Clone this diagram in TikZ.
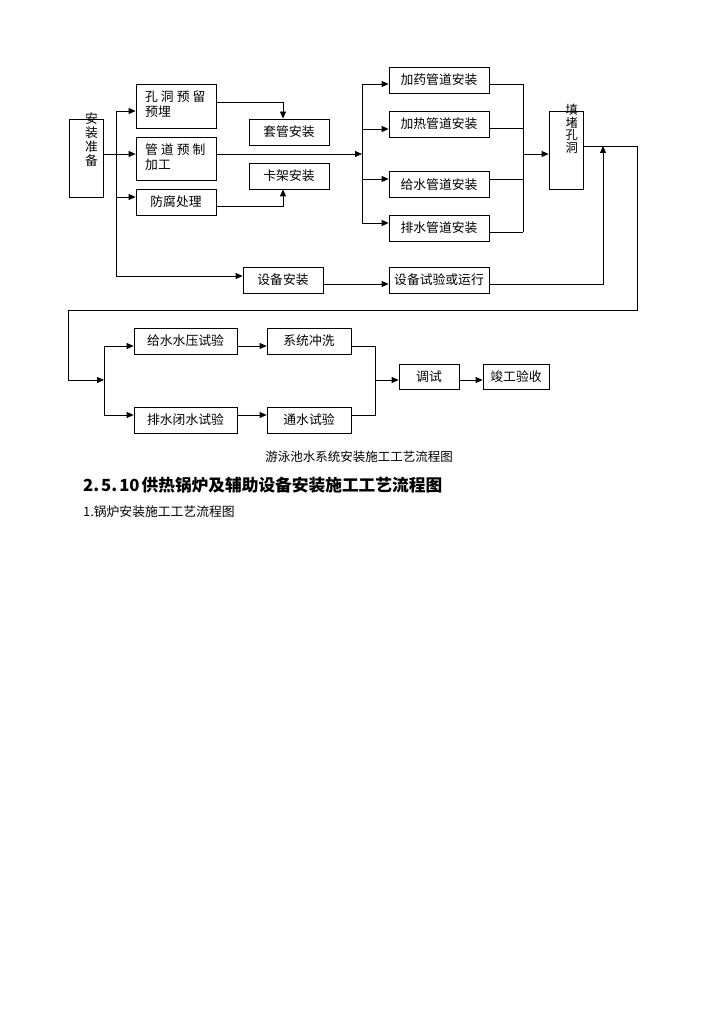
\documentclass[tikz,border=0pt]{standalone}
\usepackage{fontspec}
\newfontfamily\cjk{Noto Sans CJK SC}
\usetikzlibrary{arrows.meta,calc}
\begin{document}
\begin{tikzpicture}[x=1pt,y=-1pt,
  every node/.style={font=\cjk\fontsize{12.8}{14}\selectfont, text=black},
  box/.style={draw, line width=0.8pt, inner sep=0pt, minimum height=26pt},
  lbl/.style={inner sep=0pt},
  ln/.style={line width=0.8pt},
  arr/.style={ln, -{Triangle[length=7pt,width=6pt]}}]
\useasboundingbox[fill=white] (0,0) rectangle (724,1024);

% ---------- upper part ----------
\node[box, minimum width=34pt, minimum height=78pt] (zb) at (86,158) {};
\node[lbl, anchor=north, align=center, font=\cjk\fontsize{12.8}{14}\selectfont] (zbt) at (91.5,113) {安\\装\\准\\备};

\node[box, minimum width=80pt, minimum height=44pt] (kd) at (176,106) {};
\node[lbl, anchor=north west, align=left, font=\cjk\fontsize{12.8}{15}\selectfont] (kdt) at (145,91) {孔\hspace{3pt}洞\hspace{3pt}预\hspace{3pt}留\\预埋};

\node[box, minimum width=80pt, minimum height=43pt] (gd) at (176,158.5) {};
\node[lbl, anchor=north west, align=left, font=\cjk\fontsize{12.8}{15.5}\selectfont] (gdt) at (145,143) {管\hspace{3pt}道\hspace{3pt}预\hspace{3pt}制\\加工};

\node[box, minimum width=80pt] (ff) at (176,202) {防腐处理};
\node[box, minimum width=80pt] (tg) at (289,132) {套管安装};
\node[box, minimum width=80pt] (kj) at (289,176) {卡架安装};
\node[box, minimum width=80pt] (sb) at (283,280) {设备安装};

\node[box, minimum width=100pt] (jy) at (439,80) {加药管道安装};
\node[box, minimum width=100pt] (jr) at (439,124) {加热管道安装};
\node[box, minimum width=100pt] (gs) at (439,184.5) {给水管道安装};
\node[box, minimum width=100pt] (ps) at (439,228) {排水管道安装};
\node[box, minimum width=100pt] (sy) at (439,280) {设备试验或运行};

\node[box, minimum width=34pt, minimum height=78pt] (td) at (566,150) {};
\node[lbl, anchor=north, align=center, font=\cjk\fontsize{12.3}{12.5}\selectfont] (tdt) at (571.7,104) {填\\堵\\孔\\洞};

% ---------- lower part ----------
\node[box, minimum width=103pt] (sy2) at (185.5,341) {给水水压试验};
\node[box, minimum width=84pt] (cx) at (309,341) {系统冲洗};
\node[box, minimum width=103pt] (bs) at (185.5,420) {排水闭水试验};
\node[box, minimum width=84pt] (ts) at (309,420) {通水试验};
\node[box, minimum width=60pt, minimum height=25pt] (dt) at (429,376.5) {调试};
\node[box, minimum width=66pt, minimum height=25pt] (jg) at (516,376.5) {竣工验收};

% ---------- captions ----------
\node[lbl, font=\cjk\fontsize{12.5}{14}\selectfont] (cap) at (359,457) {游泳池水系统安装施工工艺流程图};
\node[lbl, anchor=west, font=\cjk\bfseries\fontsize{16.7}{19}\selectfont] (hd) at (83,485) {2.\hspace{2pt}5.\hspace{2pt}10\hspace{2pt}供热锅炉及辅助设备安装施工工艺流程图};
\node[lbl, anchor=west, font=\cjk\fontsize{12.8}{14}\selectfont] (sub) at (83,512) {1.锅炉安装施工工艺流程图};

% ---------- junction coordinates ----------
\coordinate (a1) at (116,111);
\coordinate (a2) at (116,154);
\coordinate (a3) at (116,197);
\coordinate (a4) at (116,276);
\coordinate (b0) at (362,154);
\coordinate (b1) at (362,84);
\coordinate (b2) at (362,129);
\coordinate (b3) at (362,179);
\coordinate (b4) at (362,223);
\coordinate (c1) at (523,84);
\coordinate (c2) at (523,128);
\coordinate (c3) at (523,179);
\coordinate (c4) at (523,232);
\coordinate (c0) at (523,154);
\coordinate (d1) at (637,146);
\coordinate (d2) at (637,310);
\coordinate (d3) at (68,310);
\coordinate (d4) at (68,380);
\coordinate (e0) at (104,380);
\coordinate (e1) at (104,346);
\coordinate (e2) at (104,415);
\coordinate (f1) at (375,346);
\coordinate (f2) at (375,415);
\coordinate (f0) at (375,380);
\coordinate (g0) at (603,146);
\coordinate (g1) at (603,284);

% ---------- connectors ----------
\draw[ln] (a1) -- (a4);
\draw[arr] (zb.east |- a2) -- (gd.west |- a2);
\draw[arr] (a1) -- (kd.west |- a1);
\draw[arr] (a3) -- (ff.west |- a3);
\draw[arr] (a4) -- (sb.west |- a4);

\draw[arr] ([yshift=4pt]kd.east) -| ([xshift=-6pt]tg.north);
\draw[arr] ([yshift=-4pt]ff.east) -| ([xshift=-6pt]kj.south);

\draw[arr] (gd.east |- b0) -- (b0);
\draw[ln] (b1) -- (b4);
\draw[arr] (b1) -- (jy.west |- b1);
\draw[arr] (b2) -- (jr.west |- b2);
\draw[arr] (b3) -- (gs.west |- b3);
\draw[arr] (b4) -- (ps.west |- b4);

\draw[ln] (jy.east |- c1) -- (c1);
\draw[ln] (jr.east |- c2) -- (c2);
\draw[ln] (gs.east |- c3) -- (c3);
\draw[ln] (ps.east |- c4) -- (c4);
\draw[ln] (c1) -- (c4);
\draw[arr] (c0) -- (td.west |- c0);

\draw[arr] (sb.east |- g1) -- (sy.west |- g1);
\draw[arr] (sy.east |- g1) -- (g1) -- (g0);

\draw[ln] (td.east |- d1) -- (d1) -- (d2) -- (d3) -- (d4);
\draw[arr] (d4) -- (e0);
\draw[ln] (e1) -- (e2);
\draw[arr] (e1) -- (sy2.west |- e1);
\draw[arr] (e2) -- (bs.west |- e2);
\draw[arr] (sy2.east |- e1) -- (cx.west |- e1);
\draw[arr] (bs.east |- e2) -- (ts.west |- e2);
\draw[ln] (cx.east |- f1) -- (f1) -- (f2) -- (ts.east |- f2);
\draw[arr] (f0) -- (dt.west |- f0);
\draw[arr] (dt.east |- f0) -- (jg.west |- f0);
\end{tikzpicture}
\end{document}
